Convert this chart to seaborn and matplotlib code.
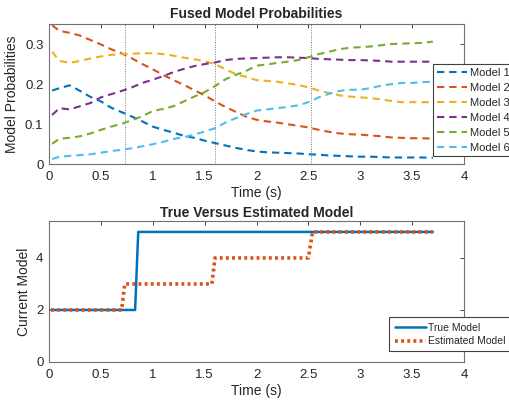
import numpy as np
import pandas as pd
import matplotlib
matplotlib.use('Agg')
import matplotlib.pyplot as plt
import seaborn as sns

# time samples (s) for the fused probabilities
time_s = [0.03, 0.1, 0.2, 0.3, 0.4, 0.5, 0.6, 0.7, 0.8, 0.9, 1.0, 1.1, 1.2, 1.3,
          1.4, 1.5, 1.6, 1.7, 1.8, 1.9, 2.0, 2.1, 2.2, 2.3, 2.4, 2.5, 2.6, 2.7,
          2.8, 2.9, 3.0, 3.1, 3.2, 3.3, 3.4, 3.5, 3.6, 3.7]

model1 = [0.184, 0.190, 0.197, 0.183, 0.168, 0.157, 0.141, 0.130, 0.119, 0.107,
          0.094, 0.086, 0.079, 0.071, 0.066, 0.059, 0.053, 0.047, 0.041, 0.036,
          0.032, 0.030, 0.029, 0.028, 0.027, 0.025, 0.024, 0.022, 0.021, 0.020,
          0.019, 0.019, 0.018, 0.017, 0.017, 0.017, 0.017, 0.016]
model2 = [0.347, 0.333, 0.328, 0.321, 0.310, 0.299, 0.287, 0.277, 0.264, 0.250,
          0.237, 0.223, 0.210, 0.198, 0.185, 0.172, 0.157, 0.143, 0.131, 0.119,
          0.111, 0.107, 0.104, 0.100, 0.096, 0.092, 0.086, 0.081, 0.077, 0.075,
          0.074, 0.072, 0.070, 0.067, 0.066, 0.065, 0.065, 0.064]
model3 = [0.281, 0.258, 0.253, 0.258, 0.264, 0.269, 0.273, 0.275, 0.276, 0.277,
          0.277, 0.275, 0.271, 0.266, 0.262, 0.257, 0.250, 0.237, 0.225, 0.218,
          0.210, 0.208, 0.206, 0.202, 0.198, 0.192, 0.184, 0.178, 0.172, 0.169,
          0.167, 0.165, 0.162, 0.158, 0.155, 0.155, 0.155, 0.155]
model4 = [0.123, 0.140, 0.137, 0.145, 0.153, 0.167, 0.175, 0.183, 0.192, 0.203,
          0.211, 0.220, 0.230, 0.238, 0.245, 0.250, 0.254, 0.260, 0.263, 0.264,
          0.265, 0.266, 0.267, 0.267, 0.266, 0.265, 0.263, 0.262, 0.261, 0.260,
          0.260, 0.259, 0.258, 0.256, 0.256, 0.256, 0.256, 0.256]
model5 = [0.051, 0.064, 0.066, 0.070, 0.077, 0.086, 0.094, 0.101, 0.110, 0.120,
          0.133, 0.138, 0.145, 0.157, 0.169, 0.180, 0.195, 0.212, 0.223, 0.233,
          0.246, 0.249, 0.253, 0.256, 0.260, 0.267, 0.275, 0.281, 0.287, 0.291,
          0.292, 0.294, 0.297, 0.300, 0.301, 0.302, 0.303, 0.306]
model6 = [0.013, 0.019, 0.021, 0.023, 0.025, 0.029, 0.033, 0.036, 0.040, 0.045,
          0.050, 0.056, 0.063, 0.068, 0.074, 0.082, 0.090, 0.104, 0.115, 0.125,
          0.134, 0.137, 0.140, 0.143, 0.147, 0.155, 0.167, 0.176, 0.183, 0.186,
          0.186, 0.190, 0.196, 0.200, 0.203, 0.203, 0.205, 0.206]

model_names = ['Model 1', 'Model 2', 'Model 3', 'Model 4', 'Model 5', 'Model 6']
switch_times = [0.73, 1.6, 2.53]

# true / estimated model index over time
true_t = [0.02, 0.83, 0.86, 3.7]
true_model = [2, 2, 5, 5]
est_t = [0.02, 0.70, 0.73, 1.57, 1.60, 2.50, 2.54, 3.7]
est_model = [2, 2, 3, 3, 4, 4, 5, 5]

x_ticks = [0, 0.5, 1, 1.5, 2, 2.5, 3, 3.5, 4]
x_ticklabels = ['0', '0.5', '1', '1.5', '2', '2.5', '3', '3.5', '4']
top_yticks = [0, 0.1, 0.2, 0.3]
top_yticklabels = ['0', '0.1', '0.2', '0.3']
bot_yticks = [0, 2, 4]
bot_yticklabels = ['0', '2', '4']

matlab_colors = ['#0072BD', '#D95319', '#EDB120', '#7E2F8E', '#77AC30', '#4DBEEE']

sns.set_style('white')
plt.rcParams['font.family'] = ['Liberation Sans', 'DejaVu Sans']
plt.rcParams['text.color'] = '#262626'
plt.rcParams['axes.labelcolor'] = '#262626'
plt.rcParams['xtick.color'] = '#262626'
plt.rcParams['ytick.color'] = '#262626'

fig = plt.figure(figsize=(5.09, 4.0), dpi=100)
ax1 = fig.add_axes([49 / 509, 1 - 164.3 / 400, 415 / 509, 140.3 / 400])
ax2 = fig.add_axes([49 / 509, 1 - 362 / 400, 415 / 509, 141 / 400])

probs = pd.DataFrame({'time': time_s, 'Model 1': model1, 'Model 2': model2,
                      'Model 3': model3, 'Model 4': model4, 'Model 5': model5,
                      'Model 6': model6})
long = probs.melt(id_vars='time', var_name='model', value_name='prob')

for name, col in zip(model_names, matlab_colors):
    sub = long[long['model'] == name]
    sns.lineplot(data=sub, x='time', y='prob', ax=ax1, color=col,
                 linestyle=(0, (3.5, 2.4)), linewidth=1.5, label=name)

for st in switch_times:
    ax1.axvline(st, color='#777777', linestyle=(0, (1, 1.5)), linewidth=0.7, zorder=0)

sns.lineplot(x=true_t, y=true_model, ax=ax2, color='#0072BD', linewidth=1.8,
             label='True Model')
sns.lineplot(x=est_t, y=est_model, ax=ax2, color='#D95319', linewidth=2.6,
             linestyle=(0, (0.8, 0.9)), label='Estimated Model')

for ax, yt, ytl in [(ax1, top_yticks, top_yticklabels), (ax2, bot_yticks, bot_yticklabels)]:
    ax.set_xlim(0, 4)
    ax.set_xticks(x_ticks)
    ax.set_xticklabels(x_ticklabels)
    ax.set_yticks(yt)
    ax.set_yticklabels(ytl)
    ax.tick_params(direction='in', length=3, width=0.6, labelsize=9.5,
                   top=True, right=True, colors='#262626')
    ax.tick_params(axis='x', pad=5)
    ax.tick_params(axis='y', pad=4)
    for sp in ax.spines.values():
        sp.set_color('#707070')
        sp.set_linewidth(0.8)
    ax.set_xlabel('Time (s)', fontsize=10, labelpad=2)

ax1.set_ylim(0, 0.35)
ax2.set_ylim(0, 5.42)
ax1.set_ylabel('Model Probabilities', fontsize=10, labelpad=4)
ax2.set_ylabel('Current Model', fontsize=10, labelpad=4)
ax1.set_title('Fused Model Probabilities', fontsize=10, fontweight='bold', pad=4)
ax2.set_title('True Versus Estimated Model', fontsize=10, fontweight='bold', pad=3)

leg1 = ax1.legend(loc='upper left', bbox_to_anchor=(433.3 / 509, 1 - 64.3 / 400),
                  bbox_transform=fig.transFigure, fontsize=8, frameon=True,
                  fancybox=False, framealpha=1, edgecolor='#404040',
                  handlelength=2.75, labelspacing=0.45, borderpad=0.3,
                  handletextpad=0.25, borderaxespad=0)
leg1.get_frame().set_linewidth(0.8)
leg2 = ax2.legend(loc='upper left', bbox_to_anchor=(389.3 / 509, 1 - 317.3 / 400),
                  bbox_transform=fig.transFigure, fontsize=7.5, frameon=True,
                  fancybox=False, framealpha=1, edgecolor='#404040',
                  handlelength=3.0, labelspacing=0.35, borderpad=0.5,
                  handletextpad=0.2, borderaxespad=0)
leg2.get_frame().set_linewidth(0.8)

plt.savefig('out.png', dpi=100)
